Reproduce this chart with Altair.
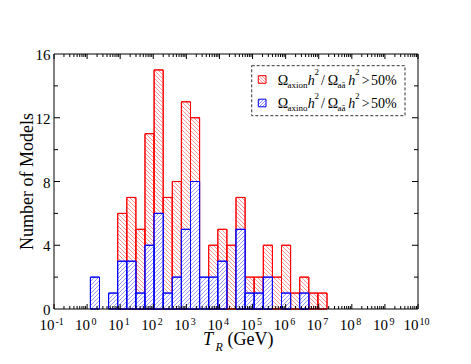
import altair as alt
import pandas as pd
import numpy as np

# ---------------- data ----------------
log_bin_start = -1.0          # histogram bins: 40 equal bins in log10(T_R) from -1 to 10
log_bin_width = 0.275
bin_index = list(range(4, 30))
axion_counts = [0, 0, 0, 6, 7, 5, 11, 15, 7, 8, 13, 12, 0, 4, 5, 4, 7, 2, 2, 4, 2, 4, 1, 2, 1, 1]
axino_counts = [2, 0, 1, 3, 3, 1, 4, 6, 1, 2, 5, 8, 2, 2, 3, 0, 5, 1, 1, 2, 0, 1, 0, 1, 0, 0]
x_decades = list(range(-1, 11))
y_major_ticks = [0, 4, 8, 12, 16]
y_minor_ticks = [2, 6, 10, 14]

# ---------------- layout ----------------
W, H = 364, 255
XLOG_MIN, XLOG_MAX = -1, 10
YMAX = 16
PPU = W / (XLOG_MAX - XLOG_MIN)
PPC = H / YMAX
FONT = "serif"
RED = "#ff0000"
BLUE = "#0000ff"
STEP = 4.0

xs = alt.Scale(type="log", domain=[10.0 ** XLOG_MIN, 10.0 ** XLOG_MAX], nice=False)
ys = alt.Scale(domain=[0, YMAX], nice=False, zero=True)


def clip_lines(x0, x1, y0, y1, sign, step=STEP):
    """Hatch lines y = sign*x + c (screen coords, y down) clipped to a rectangle."""
    segs = []
    if sign > 0:
        cmin, cmax = y0 - x1, y1 - x0
    else:
        cmin, cmax = x0 + y0, x1 + y1
    c = np.ceil(cmin / step) * step
    while c < cmax:
        if sign > 0:
            xa, xb = max(x0, y0 - c), min(x1, y1 - c)
        else:
            xa, xb = max(x0, c - y1), min(x1, c - y0)
        if xb - xa > 0.3:
            segs.append((xa, sign * xa + c, xb, sign * xb + c))
        c += step
    return segs


def bars_df(counts):
    rows = []
    for k, n in zip(bin_index, counts):
        if n > 0:
            lo = log_bin_start + k * log_bin_width
            hi = lo + log_bin_width
            rows.append({"lo": 10 ** lo, "hi": 10 ** hi, "y0": 0, "n": n,
                         "lolog": lo, "hilog": hi})
    return pd.DataFrame(rows)


def hatch_df(bdf, sign):
    rows = []
    for _, r in bdf.iterrows():
        x0 = (r["lolog"] - XLOG_MIN) * PPU
        x1 = (r["hilog"] - XLOG_MIN) * PPU
        y0 = H - r["n"] * PPC
        y1 = H
        for (xa, ya, xb, yb) in clip_lines(x0, x1, y0, y1, sign):
            rows.append({"xa": 10 ** (xa / PPU + XLOG_MIN), "ya": (H - ya) / PPC,
                         "xb": 10 ** (xb / PPU + XLOG_MIN), "yb": (H - yb) / PPC})
    return pd.DataFrame(rows)


red_bars = bars_df(axion_counts)
blue_bars = bars_df(axino_counts)
red_hatch = hatch_df(red_bars, +1)
blue_hatch = hatch_df(blue_bars, -1)


def bar_layer(df, color):
    return alt.Chart(df).mark_rect(fill="white", stroke=color, strokeWidth=1).encode(
        x=alt.X("lo:Q", scale=xs, axis=None), x2="hi:Q",
        y=alt.Y("y0:Q", scale=ys, axis=None), y2="n:Q")


def hatch_layer(df, color):
    return alt.Chart(df).mark_rule(color=color, strokeWidth=0.8, opacity=0.5).encode(
        x=alt.X("xa:Q", scale=xs, axis=None), x2="xb:Q",
        y=alt.Y("ya:Q", scale=ys, axis=None), y2="yb:Q")


def outline_layer(df, color):
    return alt.Chart(df).mark_rect(fillOpacity=0, stroke=color, strokeWidth=1).encode(
        x=alt.X("lo:Q", scale=xs, axis=None), x2="hi:Q",
        y=alt.Y("y0:Q", scale=ys, axis=None), y2="n:Q")


layers = [bar_layer(red_bars, RED), hatch_layer(red_hatch, RED), outline_layer(red_bars, RED),
          bar_layer(blue_bars, BLUE), hatch_layer(blue_hatch, BLUE), outline_layer(blue_bars, BLUE)]

# ---------------- ticks ----------------
major_x = pd.DataFrame({"v": [10.0 ** d for d in x_decades]})
minor_x = pd.DataFrame({"v": [m * 10.0 ** d for d in x_decades[:-1] for m in range(2, 10)]})
for df, ln in [(major_x, 5), (minor_x, 3)]:
    for ya, yb in [(H, H - ln), (0, ln)]:
        layers.append(alt.Chart(df).mark_rule(color="black", strokeWidth=1).encode(
            x=alt.X("v:Q", scale=xs, axis=None), y=alt.value(ya), y2=alt.value(yb)))
for vals, ln in [(y_major_ticks[1:-1], 6), (y_minor_ticks, 4)]:
    df = pd.DataFrame({"v": vals})
    for xa, xb in [(0, ln), (W, W - ln)]:
        layers.append(alt.Chart(df).mark_rule(color="black", strokeWidth=1).encode(
            y=alt.Y("v:Q", scale=ys, axis=None), x=alt.value(xa), x2=alt.value(xb)))

# ---------------- tick labels ----------------
lab = pd.DataFrame({"v": [10.0 ** d for d in x_decades],
                    "base": ["10"] * len(x_decades),
                    "exp": [str(d) for d in x_decades]})
lab["wide"] = lab["exp"].str.len() > 1
for wide, dx10, dxe in [(False, 3.0, 4.5), (True, 0.5, 1.5)]:
    sub = lab[lab["wide"] == wide]
    layers.append(alt.Chart(sub).mark_text(align="right", baseline="alphabetic", font=FONT,
                                           fontSize=15, dx=dx10, color="black").encode(
        x=alt.X("v:Q", scale=xs, axis=None), y=alt.value(276), text="base:N"))
    layers.append(alt.Chart(sub).mark_text(align="left", baseline="alphabetic", font=FONT,
                                           fontSize=10, dx=dxe, color="black").encode(
        x=alt.X("v:Q", scale=xs, axis=None), y=alt.value(271), text="exp:N"))

ylab = pd.DataFrame({"v": y_major_ticks, "t": [str(v) for v in y_major_ticks]})
layers.append(alt.Chart(ylab).mark_text(align="right", baseline="middle", font=FONT,
                                        fontSize=15, dx=-3.5, dy=1, color="black").encode(
    y=alt.Y("v:Q", scale=ys, axis=None), x=alt.value(0), text="t:N"))

one = pd.DataFrame({"a": [0]})


def txt(t, x, y, size, italic=False, align="left", baseline="alphabetic", angle=0):
    kw = dict(text=t, align=align, baseline=baseline, font=FONT, fontSize=size,
              color="black", fontStyle="italic" if italic else "normal")
    if angle:
        kw["angle"] = angle
    return alt.Chart(one).mark_text(**kw).encode(x=alt.value(x), y=alt.value(y))


# axis titles
layers.append(txt("Number of Models", -26, 127.5, 18, align="center", baseline="middle", angle=270))
layers.append(txt("T", 149, 291, 18, italic=True))
layers.append(txt("R", 161.5, 297, 12, italic=True))
layers.append(txt("(GeV)", 173.5, 291, 18))

# frame
layers.append(alt.Chart(one).mark_rect(fillOpacity=0, stroke="black", strokeWidth=1).encode(
    x=alt.value(0), x2=alt.value(W), y=alt.value(0), y2=alt.value(H)))

# ---------------- legend ----------------
layers.append(alt.Chart(one).mark_rect(fill="white", stroke="#333333", strokeWidth=1,
                                       strokeDash=[3, 2]).encode(
    x=alt.value(197.7), x2=alt.value(351), y=alt.value(11.7), y2=alt.value(61.7)))

for row, (color, sign, name) in enumerate([(RED, +1, "axion"), (BLUE, -1, "axino")]):
    dy = 23.5 * row
    sx0, sx1, sy0, sy1 = 204.3, 212.0, 21.7 + dy, 29.3 + dy
    layers.append(alt.Chart(one).mark_rect(fill="white", stroke=color, strokeWidth=1).encode(
        x=alt.value(sx0), x2=alt.value(sx1), y=alt.value(sy0), y2=alt.value(sy1)))
    segs = pd.DataFrame(clip_lines(sx0, sx1, sy0, sy1, sign, 3.0), columns=["xa", "ya", "xb", "yb"])
    layers.append(alt.Chart(segs).mark_rule(color=color, strokeWidth=0.8, opacity=0.5).encode(
        x=alt.X("xa:Q", scale=None), x2="xb:Q", y=alt.Y("ya:Q", scale=None), y2="yb:Q"))
    pieces = [("Ω", 223.7, 30.7, 14, False), (name, 233.5, 33.5, 9, False),
              ("h", 253.7, 30.7, 14, True), ("2", 260.5, 21.0, 9, False),
              ("/", 267.0, 30.7, 14, False), ("Ω", 273.7, 30.7, 14, False),
              ("aā", 283.5, 33.5, 9, False), ("h", 294.3, 30.7, 14, True),
              ("2", 301.0, 21.0, 9, False), (">", 307.7, 30.7, 14, False),
              ("50%", 317.0, 30.7, 14, False)]
    for t, px, py, sz, it in pieces:
        layers.append(txt(t, px, py + dy, sz, italic=it))

chart = alt.layer(*layers).resolve_scale(x="independent", y="independent").properties(
    width=W, height=H,
    autosize=alt.AutoSizeParams(type="none"),
    padding={"left": 46, "top": 46, "right": 45, "bottom": 46},
).configure_view(stroke=None)

chart.save("out.html", embed_options={"renderer": "svg", "actions": False})
